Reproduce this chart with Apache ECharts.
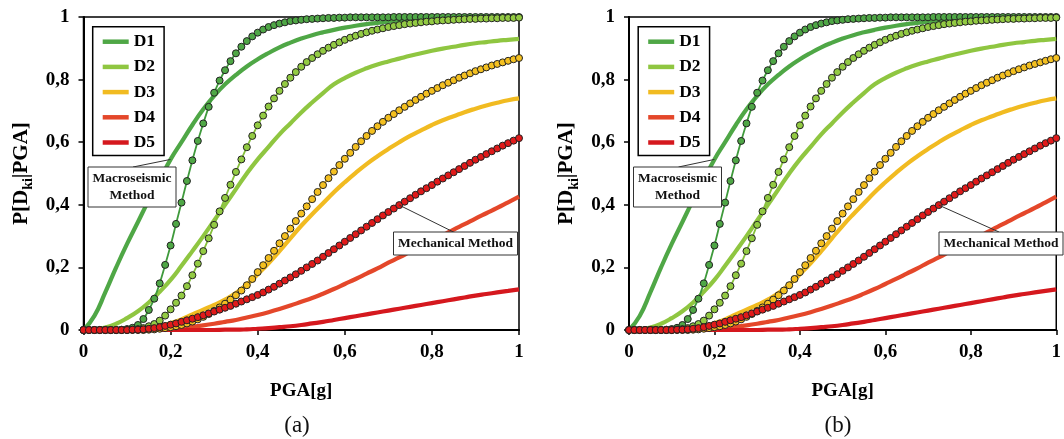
<!DOCTYPE html>
<html>
<head>
<meta charset="utf-8">
<script src="https://cdn.jsdelivr.net/npm/echarts@6/dist/echarts.min.js"></script>
<style>
  html, body { margin: 0; padding: 0; background: #fff; }
  #chart { width: 1064px; height: 439px; }
</style>
</head>
<body>
<div id="chart"></div>
<script>
// PGA grid of the macroseismic curves (step 0.025 g)
const pgaSolid = [0,0.025,0.05,0.075,0.1,0.125,0.15,0.175,0.2,0.225,0.25,0.275,0.3,0.325,0.35,0.375,0.4,0.425,0.45,0.475,0.5,0.525,0.55,0.575,0.6,0.625,0.65,0.675,0.7,0.725,0.75,0.775,0.8,0.825,0.85,0.875,0.9,0.925,0.95,0.975,1];

// Macroseismic method, P[Dk | PGA]
const macroD1 = [0,.045,.12,.2,.275,.345,.415,.48,.545,.6,.655,.705,.748,.785,.815,.842,.865,.885,.903,.918,.931,.942,.951,.959,.966,.972,.977,.981,.985,.988,.99,.992,.994,.995,.996,.997,.998,.998,.999,.999,1];
const macroD2 = [0,.002,.008,.02,.038,.06,.088,.122,.16,.205,.252,.3,.35,.4,.45,.5,.545,.585,.625,.66,.695,.727,.757,.785,.805,.822,.836,.848,.858,.867,.876,.884,.892,.899,.905,.911,.916,.92,.924,.927,.93];
const macroD3 = [0,0,0,.001,.002,.004,.008,.013,.022,.034,.05,.065,.08,.097,.118,.145,.178,.213,.252,.293,.333,.37,.405,.44,.472,.502,.53,.555,.578,.6,.62,.638,.655,.67,.683,.696,.707,.717,.726,.734,.74];
const macroD4 = [0,0,0,0,0,.001,.002,.003,.005,.008,.011,.015,.02,.026,.032,.04,.048,.057,.067,.078,.09,.102,.116,.131,.147,.163,.18,.197,.215,.232,.25,.268,.286,.303,.321,.338,.356,.373,.39,.408,.426];
const macroD5 = [0,0,0,0,0,0,0,0,0,0,0,0,0,.001,.001,.002,.004,.006,.009,.012,.016,.021,.026,.032,.038,.044,.05,.056,.062,.068,.074,.08,.086,.092,.098,.104,.11,.115,.12,.125,.13];

// PGA grid of the mechanical curves (step 0.0125 g)
const pgaMech = [0,0.0125,0.025,0.0375,0.05,0.0625,0.075,0.0875,0.1,0.1125,0.125,0.1375,0.15,0.1625,0.175,0.1875,0.2,0.2125,0.225,0.2375,0.25,0.2625,0.275,0.2875,0.3,0.3125,0.325,0.3375,0.35,0.3625,0.375,0.3875,0.4,0.4125,0.425,0.4375,0.45,0.4625,0.475,0.4875,0.5,0.5125,0.525,0.5375,0.55,0.5625,0.575,0.5875,0.6,0.6125,0.625,0.6375,0.65,0.6625,0.675,0.6875,0.7,0.7125,0.725,0.7375,0.75,0.7625,0.775,0.7875,0.8,0.8125,0.825,0.8375,0.85,0.8625,0.875,0.8875,0.9,0.9125,0.925,0.9375,0.95,0.9625,0.975,0.9875,1];

// Mechanical method, P[Dk | PGA]
const mechD1 = [0,0,0,0,0,0,0,.001,.003,.007,.016,.035,.064,.1,.149,.208,.27,.339,.407,.476,.542,.604,.66,.713,.758,.797,.83,.859,.884,.905,.923,.938,.95,.96,.968,.974,.979,.983,.987,.989,.991,.993,.994,.995,.996,.997,.997,.998,.998,.999,.999,.999,.999,.999,.999,.999,.999,1,1,1,1,1,1,1,1,1,1,1,1,1,1,1,1,1,1,1,1,1,1,1,1];
const mechD2 = [0,0,0,0,0,0,0,0,0,.001,.003,.006,.012,.019,.03,.046,.066,.087,.11,.14,.175,.212,.252,.293,.336,.379,.422,.464,.505,.545,.584,.62,.654,.685,.714,.74,.764,.786,.806,.824,.841,.856,.869,.881,.892,.902,.911,.919,.927,.934,.94,.946,.951,.956,.96,.964,.968,.971,.974,.977,.979,.981,.983,.985,.986,.988,.989,.99,.991,.992,.993,.994,.994,.995,.995,.996,.996,.997,.997,.997,.998];
const mechD3 = [0,0,0,0,0,0,0,0,0,0,0,0,.001,.002,.004,.006,.009,.012,.016,.021,.027,.034,.042,.051,.061,.072,.084,.097,.111,.126,.143,.163,.185,.207,.23,.253,.277,.3,.324,.348,.372,.395,.418,.441,.463,.485,.506,.527,.547,.566,.585,.603,.62,.636,.651,.665,.678,.69,.702,.713,.724,.735,.745,.755,.764,.773,.782,.79,.798,.806,.813,.82,.827,.833,.839,.845,.85,.855,.86,.865,.869];
const mechD4 = [0,0,0,0,0,0,0,0,0,.001,.001,.002,.004,.006,.009,.013,.017,.021,.026,.031,.036,.041,.047,.053,.059,.065,.071,.077,.084,.091,.098,.105,.112,.12,.129,.138,.148,.158,.168,.178,.189,.2,.211,.222,.234,.246,.258,.27,.282,.294,.306,.318,.33,.342,.354,.366,.377,.388,.399,.41,.421,.432,.443,.453,.463,.474,.484,.494,.504,.514,.524,.534,.544,.553,.562,.571,.58,.589,.597,.605,.613];

const damageStates = ['D1', 'D2', 'D3', 'D4', 'D5'];
const xTickLabels = ['0', '0,2', '0,4', '0,6', '0,8', '1'];
const yTickLabels = ['0', '0,2', '0,4', '0,6', '0,8', '1'];
const panelTags = ['(a)', '(b)'];

const macroSets = [macroD1, macroD2, macroD3, macroD4, macroD5];
const mechSets = [mechD1, mechD2, mechD3, mechD4];

const lineColors = ['#4fa746', '#8fc641', '#f1bb21', '#e4472a', '#d5181e'];
const markerColors = ['#4fa746', '#93cb43', '#f4c020', '#e01a1a'];
const mechLineColors = ['#3f9a3c', '#86c03c', '#e9b21c', '#d81818'];

const SERIF = '"Liberation Serif", "Times New Roman", serif';

// two identical panels side by side
const panels = [
  { left: 83.5, width: 435.5, tagX: 297 },
  { left: 629, width: 437, tagX: 838 }
];
const TOP = 17, HEIGHT = 313;

const pairs = (xs, ys) => xs.map((x, i) => [x, ys[i]]);

const grids = [], xAxes = [], yAxes = [], series = [], legends = [];

panels.forEach((p, pi) => {
  grids.push({
    left: p.left, top: TOP, width: p.width, height: HEIGHT,
    show: true, borderColor: '#000', borderWidth: 1.5, backgroundColor: 'transparent'
  });
  xAxes.push({
    type: 'value', gridIndex: pi, min: 0, max: 1, interval: 0.2,
    name: 'PGA[g]', nameLocation: 'middle', nameGap: 52,
    nameTextStyle: { fontFamily: SERIF, fontWeight: 'bold', fontSize: 19, color: '#000' },
    axisLine: { lineStyle: { color: '#000', width: 2 } },
    axisTick: { length: 5, lineStyle: { color: '#000', width: 1.5 } },
    axisLabel: {
      margin: 13, fontFamily: SERIF, fontWeight: 'bold', fontSize: 19, color: '#000',
      formatter: v => xTickLabels[Math.round(v / 0.2)]
    },
    splitLine: { show: false }
  });
  yAxes.push({
    type: 'value', gridIndex: pi, min: 0, max: 1, interval: 0.2,
    name: '{m|P[D}{s|ki}{m||PGA]}', nameLocation: 'middle', nameGap: 48, nameRotate: 90,
    nameTextStyle: {
      rich: {
        m: { fontFamily: SERIF, fontWeight: 'bold', fontSize: 21, color: '#000', lineHeight: 28 },
        s: { fontFamily: SERIF, fontWeight: 'bold', fontSize: 14, color: '#000', lineHeight: 12, verticalAlign: 'bottom' }
      }
    },
    axisLine: { show: true, lineStyle: { color: '#000', width: 2 } },
    axisTick: { show: true, length: 5, lineStyle: { color: '#000', width: 1.5 } },
    axisLabel: {
      margin: 14, fontFamily: SERIF, fontWeight: 'bold', fontSize: 19, color: '#000',
      formatter: v => yTickLabels[Math.round(v / 0.2)]
    },
    splitLine: { show: false }
  });

  // macroseismic curves: thick solid lines
  macroSets.forEach((vals, k) => {
    series.push({
      type: 'line', name: damageStates[k], xAxisIndex: pi, yAxisIndex: pi,
      data: pairs(pgaSolid, vals), showSymbol: false, symbol: 'none',
      smooth: 0.5,
      lineStyle: { width: 4.2, color: lineColors[k] }, itemStyle: { color: lineColors[k] },
      z: 2, silent: true
    });
  });
  // mechanical curves: thin lines with circle markers
  mechSets.forEach((vals, k) => {
    series.push({
      type: 'line', name: damageStates[k] + ' mech', xAxisIndex: pi, yAxisIndex: pi,
      data: pairs(pgaMech, vals), symbol: 'circle', symbolSize: 7, showAllSymbol: true,
      smooth: 0.3,
      lineStyle: { width: 1.8, color: mechLineColors[k] },
      itemStyle: { color: markerColors[k], borderColor: '#222', borderWidth: 1 },
      z: 3 + k, silent: true, clip: false
    });
  });

  legends.push({
    left: p.left + 9.2, top: 26.7, orient: 'vertical',
    data: damageStates.slice(), icon: 'rect', itemWidth: 26, itemHeight: 4.5, itemGap: 5.2,
    padding: [5, 9, 3, 10], borderColor: '#000', borderWidth: 1.5, backgroundColor: '#fff',
    selectedMode: false,
    textStyle: { fontFamily: SERIF, fontWeight: 'bold', fontSize: 17.5, color: '#000', lineHeight: 20 }
  });
});

const chart = echarts.init(document.getElementById('chart'), null, { renderer: 'canvas' });
chart.setOption({
  backgroundColor: '#fff',
  animation: false,
  grid: grids, xAxis: xAxes, yAxis: yAxes, legend: legends, series: series
});

// annotation boxes with leader lines pointing at a curve point
const macroAnchor = [pgaSolid[8], macroD1[8]];
const mechAnchor = [pgaMech[58], mechD4[58]];
const boxFont = 'bold 13.5px ' + SERIF;
const graphics = [];
panels.forEach((p, pi) => {
  const a1 = chart.convertToPixel({ gridIndex: pi }, macroAnchor);
  const a2 = chart.convertToPixel({ gridIndex: pi }, mechAnchor);
  const mx = p.left + 4.5, my = 167;
  const kx = p.left + 310, ky = 232;
  graphics.push(
    { type: 'line', z: 50, shape: { x1: mx + 45, y1: my, x2: a1[0], y2: a1[1] }, style: { stroke: '#333', lineWidth: 1 } },
    { type: 'rect', z: 60, shape: { x: mx, y: my, width: 88, height: 40 }, style: { fill: '#fff', stroke: '#333', lineWidth: 1 } },
    { type: 'text', z: 61, style: { text: 'Macroseismic\nMethod', x: mx + 44, y: my + 20, align: 'center', verticalAlign: 'middle', textAlign: 'center', textVerticalAlign: 'middle', font: boxFont, lineHeight: 17, fill: '#111' } },
    { type: 'line', z: 50, shape: { x1: kx + 60, y1: ky, x2: a2[0], y2: a2[1] }, style: { stroke: '#333', lineWidth: 1 } },
    { type: 'rect', z: 60, shape: { x: kx, y: ky, width: 124, height: 23 }, style: { fill: '#fff', stroke: '#333', lineWidth: 1 } },
    { type: 'text', z: 61, style: { text: 'Mechanical Method', x: kx + 62, y: ky + 11.5, align: 'center', verticalAlign: 'middle', textAlign: 'center', textVerticalAlign: 'middle', font: boxFont, fill: '#111' } },
    { type: 'text', z: 61, style: { text: panelTags[pi], x: p.tagX, y: 426, align: 'center', verticalAlign: 'middle', textAlign: 'center', textVerticalAlign: 'middle', font: '23px ' + SERIF, fill: '#111' } }
  );
});
chart.setOption({ graphic: graphics });
</script>
</body>
</html>
